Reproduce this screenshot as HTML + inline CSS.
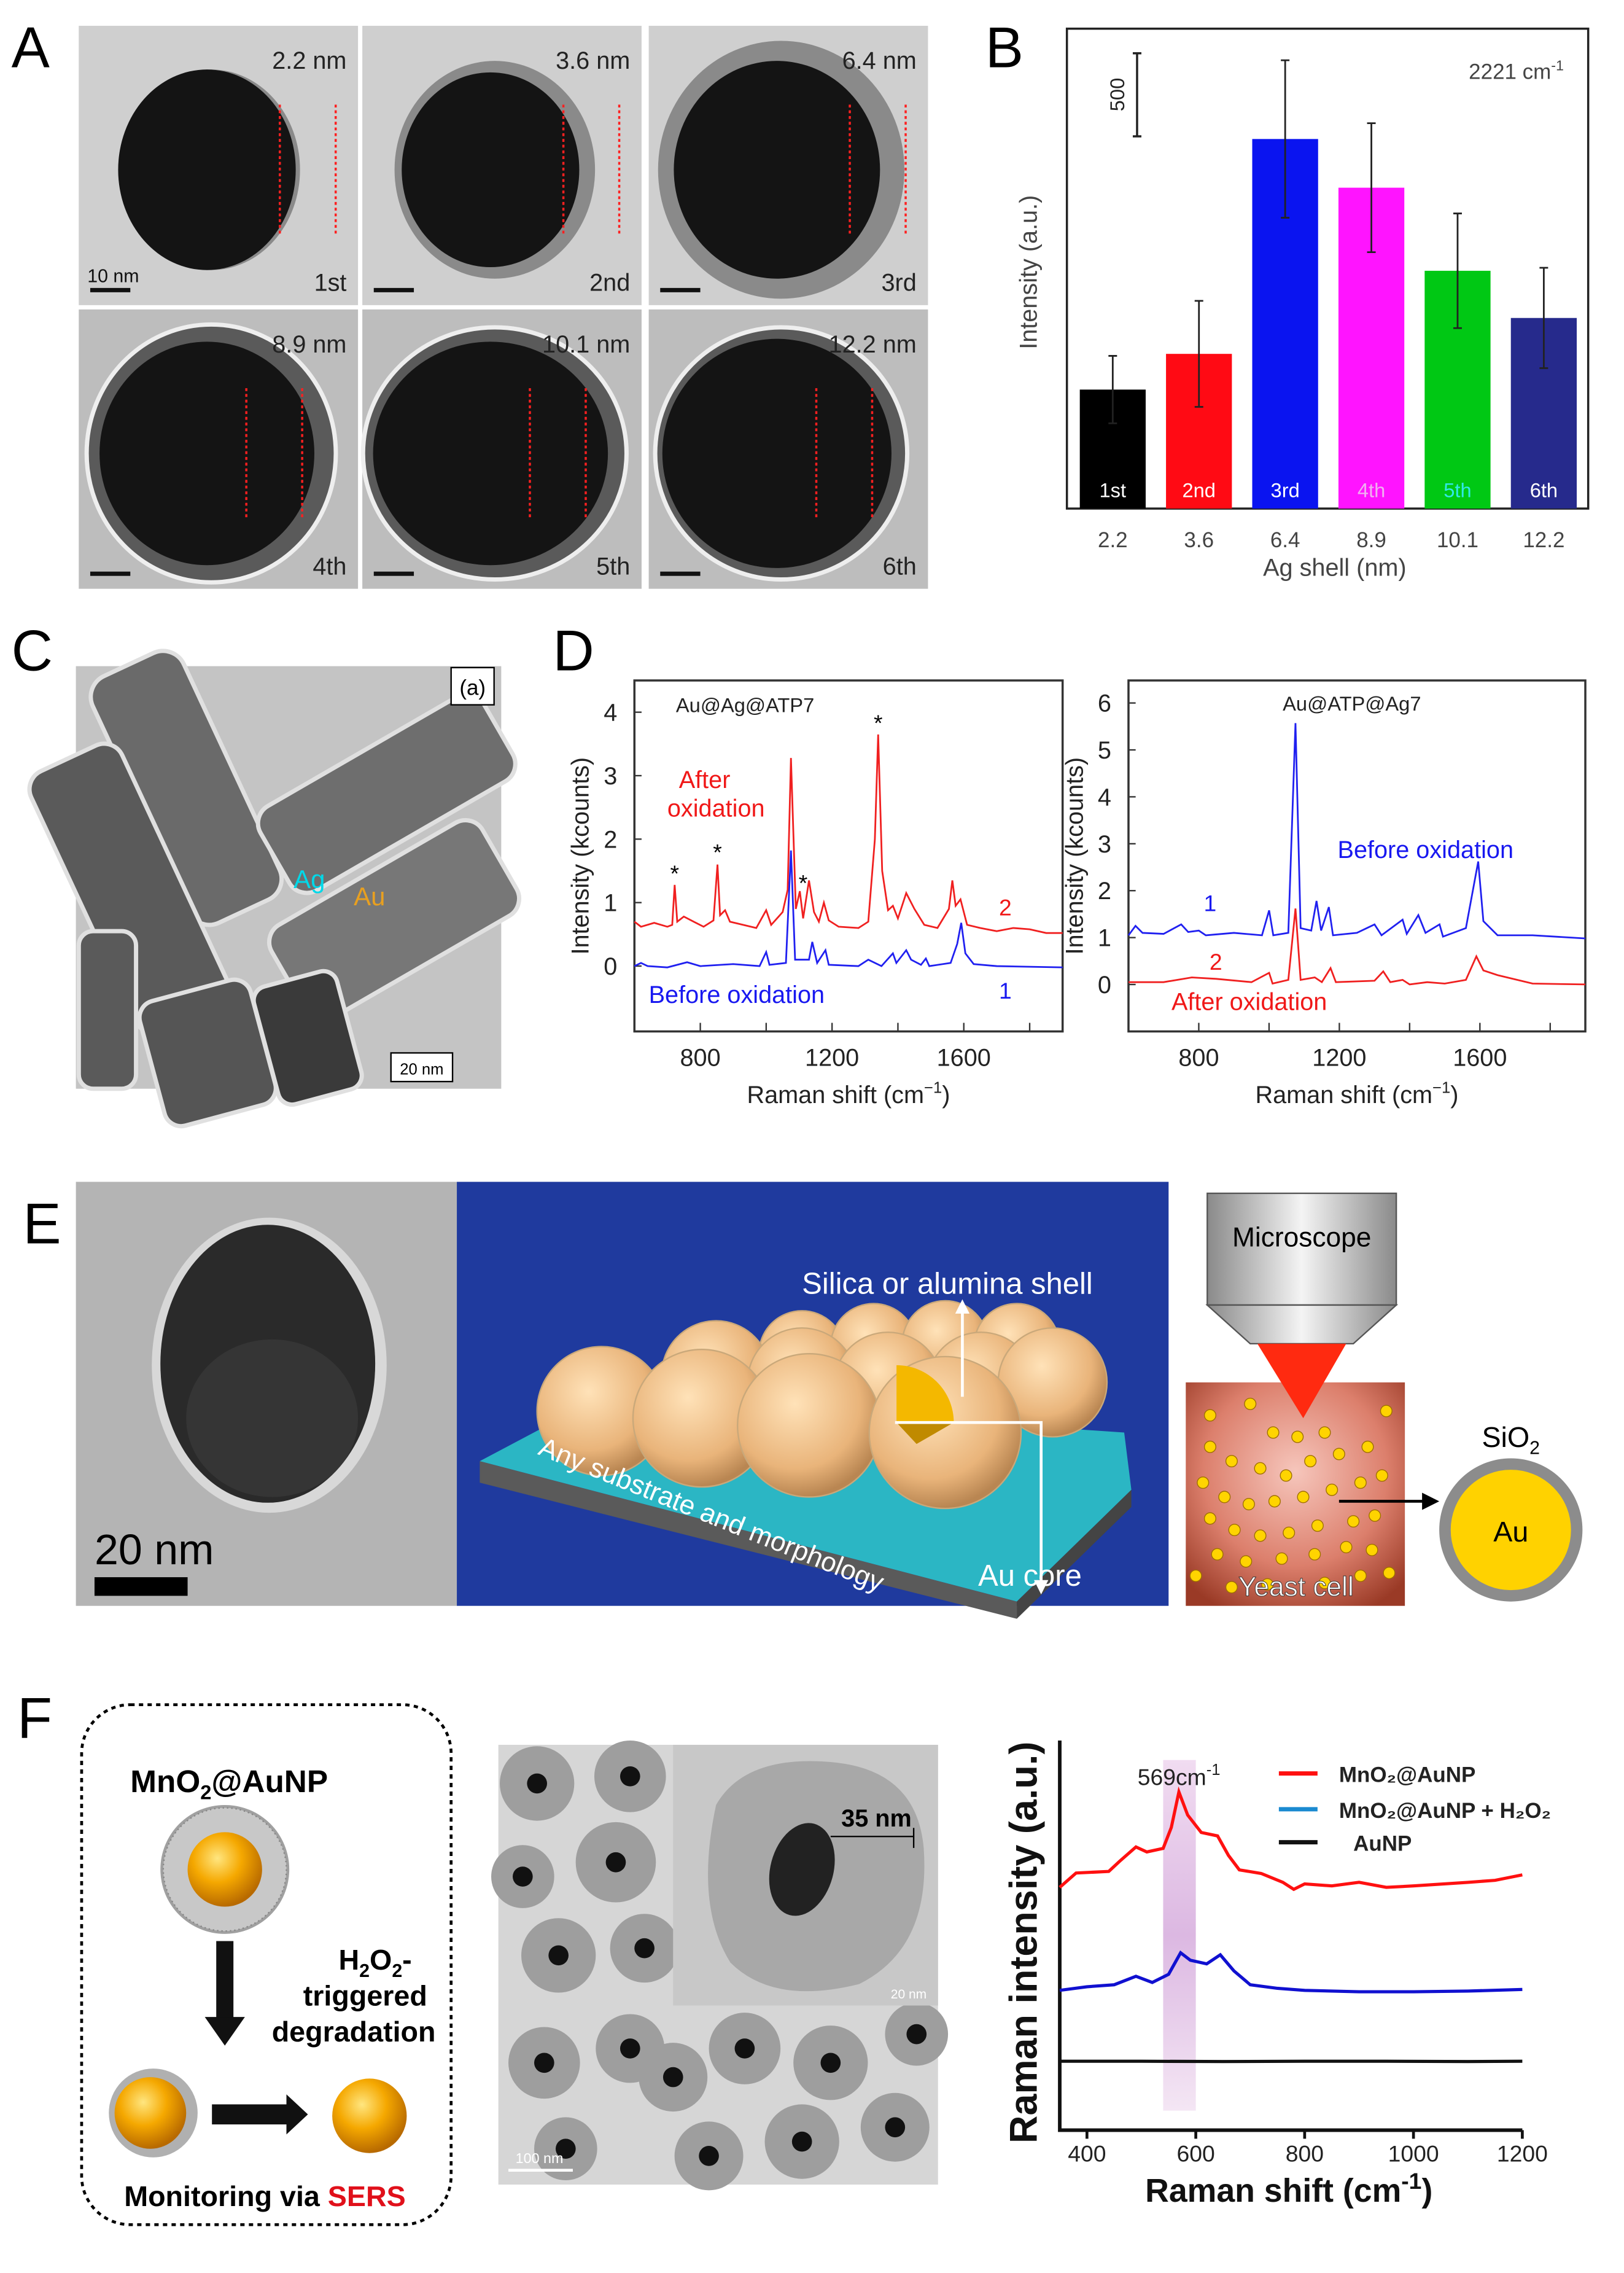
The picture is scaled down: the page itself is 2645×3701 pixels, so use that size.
<!DOCTYPE html>
<html><head><meta charset="utf-8">
<style>
html,body{margin:0;padding:0;background:#fff;}
svg{display:block;font-family:"Liberation Sans",Arial,sans-serif;}
</style></head>
<body>
<svg id="fig" xmlns="http://www.w3.org/2000/svg" width="2645" height="3701" viewBox="0 0 1134 1586.7">
<defs>
<radialGradient id="tem" cx="50%" cy="50%" r="60%"><stop offset="0" stop-color="#d2d2d2"/><stop offset="1" stop-color="#b8b8b8"/></radialGradient>
<radialGradient id="gold" cx="40%" cy="35%" r="65%"><stop offset="0" stop-color="#ffe680"/><stop offset="0.5" stop-color="#f5a800"/><stop offset="1" stop-color="#b86a00"/></radialGradient>
<radialGradient id="shell" cx="40%" cy="35%" r="65%"><stop offset="0" stop-color="#ffe2b8"/><stop offset="0.7" stop-color="#e9b47a"/><stop offset="1" stop-color="#b98652"/></radialGradient>
<linearGradient id="scope" x1="0" x2="1"><stop offset="0" stop-color="#8a8a8a"/><stop offset="0.5" stop-color="#f4f4f4"/><stop offset="1" stop-color="#8a8a8a"/></linearGradient>
<linearGradient id="band" x1="0" y1="0" x2="0" y2="1"><stop offset="0" stop-color="#f1dcf1"/><stop offset="0.5" stop-color="#dcb8e2"/><stop offset="1" stop-color="#f4e6f4"/></linearGradient>
<radialGradient id="yeast" cx="50%" cy="40%" r="70%"><stop offset="0" stop-color="#f6c6bc"/><stop offset="0.6" stop-color="#dc7f6c"/><stop offset="1" stop-color="#9a3a26"/></radialGradient>
</defs>

<!-- Panel letters -->
<text x="8" y="47" font-size="40">A</text>
<text x="688" y="47" font-size="40">B</text>
<text x="8" y="468" font-size="40">C</text>
<text x="386" y="468" font-size="40">D</text>
<text x="16" y="868" font-size="40">E</text>
<text x="12" y="1213" font-size="40">F</text>

<!-- Panel A TEM grid -->
<g id="panelA"></g>

<!-- Panel B -->
<g id="panelB"></g>

<!-- Panel C -->
<g>
<rect x="53" y="465" width="297" height="295" fill="#c4c4c4"/>
<g fill="#6a6a6a" stroke="#e0e0e0" stroke-width="3">
<rect x="95" y="455" width="70" height="190" rx="16" transform="rotate(-25 130 550)"/>
<rect x="55" y="520" width="70" height="200" rx="14" transform="rotate(-25 90 620)" fill="#5a5a5a"/>
<rect x="180" y="520" width="180" height="68" rx="14" transform="rotate(-30 270 554)" fill="#6e6e6e"/>
<rect x="190" y="605" width="170" height="75" rx="14" transform="rotate(-30 275 642)" fill="#777"/>
<rect x="105" y="690" width="80" height="90" rx="12" transform="rotate(-15 145 735)" fill="#555"/>
<rect x="185" y="682" width="60" height="85" rx="10" transform="rotate(-15 215 725)" fill="#3a3a3a"/>
<rect x="55" y="650" width="40" height="110" rx="10" fill="#5a5a5a"/>
</g>
<rect x="315" y="466" width="30" height="26" fill="#fff" stroke="#000" stroke-width="1"/>
<text x="330" y="485" font-size="15" text-anchor="middle">(a)</text>
<rect x="273" y="735" width="43" height="20" fill="#fff" stroke="#000" stroke-width="1"/>
<text x="294.5" y="750" font-size="11" text-anchor="middle">20 nm</text>
<text x="205" y="620" font-size="18" fill="#00d8e8">Ag</text>
<text x="247" y="632" font-size="18" fill="#e8a020">Au</text>
</g>

<!-- Panel D -->
<g id="panelD"></g>

<!-- Panel E -->
<g>
<rect x="53" y="825" width="266" height="296" fill="#b4b4b4"/>
<ellipse cx="188" cy="953" rx="82" ry="103" fill="#d8d8d8"/>
<ellipse cx="187" cy="952" rx="75" ry="97" fill="#2a2a2a"/>
<ellipse cx="190" cy="990" rx="60" ry="55" fill="#3a3a3a" opacity="0.7"/>
<text x="66" y="1092" font-size="30">20 nm</text>
<rect x="66" y="1101" width="65" height="13" fill="#000"/>
<rect x="319" y="825" width="497" height="296" fill="#1f3a9e"/>
<polygon points="335,1020 710,1118 790,1040 785,1000 420,975" fill="#2bb6c4"/>
<polygon points="335,1020 710,1118 710,1130 335,1035" fill="#5a5a5a"/>
<polygon points="710,1118 790,1040 790,1052 710,1130" fill="#444"/>
<g id="spheres"></g>
<text x="560" y="903" font-size="21" fill="#fff">Silica or alumina shell</text>
<line x1="672" y1="975" x2="672" y2="915" stroke="#fff" stroke-width="2"/>
<polygon points="667,917 677,917 672,907" fill="#fff"/>
<polyline points="625,993 727,993 727,1105" fill="none" stroke="#fff" stroke-width="2"/>
<polygon points="722,1103 732,1103 727,1113" fill="#fff"/>
<text x="375" y="1015" font-size="19" fill="#fff" transform="rotate(22 375 1015)">Any substrate and morphology</text>
<text x="683" y="1107" font-size="21" fill="#fff">Au core</text>
<rect x="843" y="833" width="132" height="78" fill="url(#scope)" stroke="#555"/>
<polygon points="843,911 975,911 945,938 873,938" fill="url(#scope)" stroke="#555"/>
<text x="909" y="870" font-size="19" text-anchor="middle">Microscope</text>
<rect x="828" y="965" width="153" height="156" fill="url(#yeast)"/>
<polygon points="878,938 940,938 910,990" fill="#ff2a10"/>
<g id="dots" fill="#ffd400" stroke="#a07000" stroke-width="0.6"></g>
<text x="905" y="1114" font-size="19" fill="#fff" text-anchor="middle" stroke="#333" stroke-width="0.4">Yeast cell</text>
<line x1="935" y1="1048" x2="995" y2="1048" stroke="#000" stroke-width="2"/>
<polygon points="993,1042 1005,1048 993,1054" fill="#000"/>
<circle cx="1055" cy="1068" r="46" fill="#ffd200" stroke="#8c8c8c" stroke-width="8"/>
<text x="1055" y="1010" font-size="20" text-anchor="middle">SiO<tspan font-size="13" dy="5">2</tspan></text>
<text x="1055" y="1076" font-size="20" text-anchor="middle">Au</text>
</g>

<!-- Panel F left schematic -->
<g>
<rect x="57" y="1190" width="258" height="363" rx="34" fill="none" stroke="#000" stroke-width="2" stroke-dasharray="3,3"/>
<text x="160" y="1251" font-size="22" font-weight="bold" text-anchor="middle">MnO<tspan font-size="14" dy="5">2</tspan><tspan dy="-5">@AuNP</tspan></text>
<circle cx="157" cy="1305" r="45" fill="#a0a0a0"/>
<circle cx="157" cy="1305" r="43" fill="#c8c8c8" stroke="#888" stroke-dasharray="1,2"/>
<circle cx="157" cy="1305" r="26" fill="url(#gold)"/>
<rect x="151" y="1355" width="12" height="55" fill="#111"/>
<polygon points="143,1408 171,1408 157,1428" fill="#111"/>
<text x="262" y="1375" font-size="20" font-weight="bold" text-anchor="middle">H<tspan font-size="13" dy="5">2</tspan><tspan dy="-5">O</tspan><tspan font-size="13" dy="5">2</tspan><tspan dy="-5">-</tspan></text>
<text x="255" y="1400" font-size="20" font-weight="bold" text-anchor="middle">triggered</text>
<text x="247" y="1425" font-size="20" font-weight="bold" text-anchor="middle">degradation</text>
<circle cx="107" cy="1475" r="31" fill="#b0b0b0"/>
<circle cx="105" cy="1475" r="25" fill="url(#gold)"/>
<rect x="148" y="1469" width="55" height="14" fill="#111"/>
<polygon points="200,1462 215,1476 200,1490" fill="#111"/>
<circle cx="258" cy="1477" r="26" fill="url(#gold)"/>
<text x="185" y="1540" font-size="20" font-weight="bold" text-anchor="middle">Monitoring via <tspan fill="#e0101a">SERS</tspan></text>
</g>
<g>
<rect x="348" y="1218" width="307" height="307" fill="#d6d6d6"/>
<g id="ftem"></g>
<rect x="470" y="1218" width="185" height="182" fill="#c8c8c8"/>
<path d="M500,1260 Q520,1225 580,1230 Q640,1235 645,1290 Q650,1360 600,1385 Q540,1400 510,1370 Q485,1330 500,1260Z" fill="#a8a8a8"/>
<ellipse cx="560" cy="1305" rx="22" ry="33" fill="#222" transform="rotate(15 560 1305)"/>
<line x1="580" y1="1282" x2="638" y2="1282" stroke="#000"/>
<line x1="638" y1="1276" x2="638" y2="1290" stroke="#000"/>
<text x="612" y="1275" font-size="17" font-weight="bold" text-anchor="middle">35 nm</text>
<text x="622" y="1395" font-size="9" fill="#fff">20 nm</text>
<line x1="355" y1="1515" x2="400" y2="1515" stroke="#fff" stroke-width="2"/>
<text x="360" y="1510" font-size="10" fill="#fff">100 nm</text>
</g>

<!-- Panel F chart -->
<g id="panelF"></g>
</svg>

<script>
const NS="http://www.w3.org/2000/svg";
function el(tag,parent){const e=document.createElementNS(NS,tag);parent.appendChild(e);return e;}
function txt(parent,x,y,s,size,anchor,fill){const t=el('text',parent);t.setAttribute('x',x);t.setAttribute('y',y);t.setAttribute('font-size',size);t.setAttribute('text-anchor',anchor||'start');t.setAttribute('fill',fill||'#000');t.textContent=s;return t;}

/* ===== Panel A ===== */
const aShell=["2.2 nm","3.6 nm","6.4 nm","8.9 nm","10.1 nm","12.2 nm"];
const aOrder=["1st","2nd","3rd","4th","5th","6th"];
(function(){
const g=document.getElementById('panelA');
const cols=[55,253,453], rows=[18,216], w=195, h=195;
const pr=[[62,70],[62,68],[72,76],[75,78],[82,78],[80,80]];
const shellR=[0,8,14,12,10,8];
for(let i=0;i<6;i++){
 const x=cols[i%3], y=rows[Math.floor(i/3)];
 const r=el('rect',g);
 
 
 r.setAttribute('x',x);r.setAttribute('y',y);r.setAttribute('width',w);r.setAttribute('height',h);r.setAttribute('fill',i<3?'#cfcfcf':'#bdbdbd');
 const cx=x+w/2-5, cy=y+h/2+3;
 const s=el('ellipse',g);s.setAttribute('cx',cx);s.setAttribute('cy',cy);s.setAttribute('rx',pr[i][0]+shellR[i]);s.setAttribute('ry',pr[i][1]+shellR[i]);s.setAttribute('fill',i<3?'#8a8a8a':'#5a5a5a');s.setAttribute('stroke',i<3?'none':'#eee');s.setAttribute('stroke-width','3');
 const c=el('ellipse',g);c.setAttribute('cx',cx-3);c.setAttribute('cy',cy);c.setAttribute('rx',pr[i][0]);c.setAttribute('ry',pr[i][1]);c.setAttribute('fill','#141414');
 for(const dx of [0.72,0.92]){const l=el('line',g);const lx=x+w*(i<3?dx:dx-0.12);l.setAttribute('x1',lx);l.setAttribute('x2',lx);l.setAttribute('y1',y+55);l.setAttribute('y2',y+145);l.setAttribute('stroke','#ff2020');l.setAttribute('stroke-width','1.5');l.setAttribute('stroke-dasharray','2,2');}
 const t1=txt(g,x+w-8,y+30,aShell[i],17,'end','#222');
 
 
 const t2=txt(g,x+w-8,y+h-10,aOrder[i],17,'end','#222');
 
 
 const sb=el('rect',g);sb.setAttribute('x',x+8);sb.setAttribute('y',y+h-12);sb.setAttribute('width',28);sb.setAttribute('height',3);sb.setAttribute('fill','#111');
 if(i===0){txt(g,x+6,y+h-16,'10 nm',13,'start','#111');}
}
})();

/* ===== Panel B ===== */
const bCats=["2.2","3.6","6.4","8.9","10.1","12.2"];
const bLabels=["1st","2nd","3rd","4th","5th","6th"];
const bVals=[716,931,2224,1931,1431,1147];
const bErr=[203,319,474,388,345,302];
const bColors=["#000000","#ff0a14","#0a14f0","#ff14ff","#00c814","#262a8c"];
(function(){
const g=document.getElementById('panelB');
const L=745,R=1109,T=20,B=355;
const yB=v=>B-v*58/500;
const xB=i=>L+32+60.2*i;
const f=el('rect',g);


f.setAttribute('x',L);f.setAttribute('y',T);f.setAttribute('width',R-L);f.setAttribute('height',B-T);f.setAttribute('fill','none');f.setAttribute('stroke','#222');f.setAttribute('stroke-width','1.5');
for(let i=0;i<bVals.length;i++){
 const b=el('rect',g);
 
 
 b.setAttribute('x',xB(i)-23);b.setAttribute('y',yB(bVals[i]));b.setAttribute('width',46);b.setAttribute('height',B-yB(bVals[i]));b.setAttribute('fill',bColors[i]);
 const e=el('path',g);
 
 
 const y1=yB(bVals[i]+bErr[i]), y2=yB(bVals[i]-bErr[i]), xc=xB(i);
 e.setAttribute('d',`M${xc},${y1}V${y2}M${xc-3},${y1}H${xc+3}M${xc-3},${y2}H${xc+3}`);e.setAttribute('stroke','#222');e.setAttribute('stroke-width','1.2');e.setAttribute('fill','none');
 const bl=txt(g,xc,B-8,bLabels[i],14,'middle',i===4?'#30e8e8':(i===3?'#f0b0f0':'#fff'));
 
 
 const tl=txt(g,xc,B+27,bCats[i],15,'middle','#444');
 
 
}
const sc=el('path',g);


sc.setAttribute('d',`M794,${yB(2740)}V${yB(2240)}M791,${yB(2740)}H797M791,${yB(2240)}H797`);sc.setAttribute('stroke','#222');sc.setAttribute('stroke-width','1.5');
const s5=txt(g,0,0,'500',14,'middle','#222');s5.setAttribute('transform','translate(785,66) rotate(-90)');
const ct=txt(g,1092,55,'2221 cm',15,'end','#444');
const sup=el('tspan',ct);sup.setAttribute('font-size','10');sup.setAttribute('dy','-6');sup.textContent='-1';
const xt=txt(g,932,402,'Ag shell (nm)',17,'middle','#444');


const yt=txt(g,0,0,'Intensity (a.u.)',17,'middle','#444');


yt.setAttribute('transform','translate(724,190) rotate(-90)');
})();

/* ===== Panel D spectra ===== */
const dL_red_x=[600,620,660,700,715,722,730,750,780,810,840,852,860,875,890,930,970,1000,1015,1050,1065,1075,1090,1102,1112,1130,1145,1160,1175,1190,1220,1280,1310,1330,1340,1352,1370,1385,1400,1425,1450,1480,1520,1555,1565,1575,1590,1610,1650,1700,1750,1800,1850,1900];
const dL_red_y=[0.7,0.62,0.68,0.62,0.65,1.28,0.7,0.78,0.7,0.62,0.72,1.6,0.8,0.88,0.7,0.65,0.6,0.88,0.65,0.85,1.2,3.28,0.9,1.18,0.75,1.35,0.85,0.7,1.0,0.72,0.62,0.6,0.7,2.0,3.65,1.5,0.88,0.95,0.75,1.15,0.9,0.65,0.6,0.9,1.35,0.95,1.05,0.65,0.6,0.55,0.6,0.58,0.52,0.52];
const dL_blue_x=[600,620,640,700,760,800,900,980,1000,1010,1060,1075,1088,1130,1140,1155,1180,1190,1280,1310,1350,1385,1395,1425,1440,1470,1485,1495,1560,1580,1592,1605,1630,1700,1900];
const dL_blue_y=[0,0.05,0,-0.02,0.06,0,0.03,0,0.22,0.02,0.05,1.82,0.1,0.1,0.38,0.05,0.25,0.02,0,0.1,0,0.2,0.05,0.25,0.1,0.02,0.12,0,0.05,0.35,0.68,0.2,0.03,0,-0.02];
const dR_blue_x=[600,620,640,700,750,770,800,820,900,980,1000,1012,1055,1075,1090,1120,1135,1148,1170,1182,1250,1300,1320,1380,1392,1425,1445,1485,1495,1560,1595,1610,1650,1750,1900];
const dR_blue_y=[1.05,1.25,1.1,1.08,1.28,1.12,1.15,1.05,1.1,1.05,1.58,1.05,1.1,5.57,1.2,1.15,1.78,1.15,1.65,1.05,1.1,1.28,1.05,1.38,1.08,1.48,1.1,1.28,1.02,1.2,2.62,1.35,1.05,1.05,0.98];
const dR_red_x=[600,650,700,780,850,950,1000,1010,1055,1075,1090,1130,1150,1175,1190,1300,1325,1345,1380,1400,1450,1500,1560,1590,1610,1650,1750,1900];
const dR_red_y=[0.05,0.05,0.05,0.15,0.12,0.05,0.25,0.02,0.1,1.62,0.1,0.15,0.05,0.35,0.05,0.08,0.28,0.05,0.1,0,0.05,0.02,0.1,0.6,0.3,0.2,0.02,0];
const dXTicks=[800,1200,1600];
const dLYTicks=[0,1,2,3,4];
const dRYTicks=[0,1,2,3,4,5,6];
(function(){
const g=document.getElementById('panelD');
function panel(L,R,T,B,ymin,ymax,yt,series,name){
 const xs=v=>L+(v-600)/1300*(R-L);
 const ys=v=>B-(v-ymin)/(ymax-ymin)*(B-T);
 const f=el('rect',g);
 
 
 f.setAttribute('x',L);f.setAttribute('y',T);f.setAttribute('width',R-L);f.setAttribute('height',B-T);f.setAttribute('fill','none');f.setAttribute('stroke','#333');f.setAttribute('stroke-width','1.5');
 for(let v=800;v<=1800;v+=200){const t=el('line',g);t.setAttribute('x1',xs(v));t.setAttribute('x2',xs(v));t.setAttribute('y1',B);t.setAttribute('y2',B-6);t.setAttribute('stroke','#333');}
 dXTicks.forEach(v=>{const t=txt(g,xs(v),B+24,String(v),17,'middle','#222');
  
  });
 yt.forEach(v=>{const t=txt(g,L-12,ys(v)+6,String(v),17,'end','#222');
  
  
  const tk=el('line',g);tk.setAttribute('x1',L);tk.setAttribute('x2',L+5);tk.setAttribute('y1',ys(v));tk.setAttribute('y2',ys(v));tk.setAttribute('stroke','#333');});
 series.forEach(s=>{const p=el('polyline',g);
  
  
  p.setAttribute('points',s.x.map((v,i)=>xs(v).toFixed(1)+','+ys(s.y[i]).toFixed(1)).join(' '));p.setAttribute('fill','none');p.setAttribute('stroke',s.c);p.setAttribute('stroke-width','1.2');});
 const xt=txt(g,(L+R)/2,B+50,'Raman shift (cm',17,'middle','#222');
 
 
 const sp=el('tspan',xt);sp.setAttribute('font-size','11');sp.setAttribute('dy','-7');sp.textContent='−1';
 const sp2=el('tspan',xt);sp2.setAttribute('dy','7');sp2.textContent=')';
 const yT=txt(g,0,0,'Intensity (kcounts)',17,'middle','#222');
 
 
 yT.setAttribute('transform',`translate(${L-32},${(T+B)/2}) rotate(-90)`);
 return {xs,ys};
}
const a=panel(443,742,475,720,-1.03,4.5,dLYTicks,[{name:'left-red-after',x:dL_red_x,y:dL_red_y,c:'#f02020'},{name:'left-blue-before',x:dL_blue_x,y:dL_blue_y,c:'#2020f0'}],'d-left');
txt(g,472,497,'Au@Ag@ATP7',14,'start','#222');
txt(g,492,550,'After',17,'middle','#f01818');
txt(g,500,570,'oxidation',17,'middle','#f01818');
txt(g,453,700,'Before oxidation',17,'start','#1818f0');
txt(g,702,639,'2',16,'middle','#f01818');
txt(g,702,697,'1',16,'middle','#1818f0');
[[722,1.45],[852,1.78],[1112,1.3],[1340,3.82]].forEach(s=>txt(g,a.xs(s[0]),a.ys(s[1])+5,'*',16,'middle','#000'));
const b=panel(788,1107,475,720,-1.0,6.48,dRYTicks,[{name:'right-blue-before',x:dR_blue_x,y:dR_blue_y,c:'#2020f0'},{name:'right-red-after',x:dR_red_x,y:dR_red_y,c:'#f02020'}],'d-right');
txt(g,944,496,'Au@ATP@Ag7',14,'middle','#222');
txt(g,934,599,'Before oxidation',17,'start','#1818f0');
txt(g,818,705,'After oxidation',17,'start','#f01818');
txt(g,845,636,'1',16,'middle','#1818f0');
txt(g,849,677,'2',16,'middle','#f01818');
})();

/* ===== Panel E decor ===== */
(function(){
const g=document.getElementById('spheres');
const sp=[[560,945,30],[610,940,30],[660,938,30],[710,940,30],[500,960,38],[560,965,38],[620,968,38],[685,968,38],[735,965,38],[420,985,45],[490,990,48],[565,995,50],[660,1000,53]];
sp.forEach(s=>{const c=el('circle',g);c.setAttribute('cx',s[0]);c.setAttribute('cy',s[1]);c.setAttribute('r',s[2]);c.setAttribute('fill','url(#shell)');c.setAttribute('stroke','#c9a87a');c.setAttribute('stroke-width','1');});
const w=el('path',g);w.setAttribute('d','M626,993 L626,953 A40,40 0 0 1 666,993 Z');w.setAttribute('fill','#f4b800');
const w2=el('path',g);w2.setAttribute('d','M626,993 L666,993 L640,1008 Z');w2.setAttribute('fill','#c08a00');
const d=document.getElementById('dots');
const pts=[[845,988],[873,980],[889,1000],[906,1003],[925,1000],[845,1010],[860,1020],[880,1025],[898,1030],[915,1020],[935,1015],[955,1010],[840,1035],[855,1045],[872,1050],[890,1048],[910,1045],[930,1040],[950,1035],[965,1030],[845,1060],[862,1068],[880,1072],[900,1070],[920,1065],[945,1062],[960,1058],[850,1085],[870,1090],[895,1088],[918,1085],[940,1080],[958,1082],[835,1100],[860,1108],[885,1106],[925,1105],[950,1100],[970,1098],[968,985]];
pts.forEach(p=>{const c=el('circle',d);c.setAttribute('cx',p[0]);c.setAttribute('cy',p[1]);c.setAttribute('r',4);});
const f=document.getElementById('ftem');
const cells=[[375,1245,26],[440,1240,25],[365,1310,22],[430,1300,28],[390,1365,26],[450,1360,24],[380,1440,25],[440,1430,24],[395,1500,22],[470,1450,24],[520,1430,25],[580,1440,26],[640,1420,22],[495,1505,24],[560,1495,26],[625,1485,24],[630,1250,22]];
cells.forEach(c=>{const a=el('circle',f);a.setAttribute('cx',c[0]);a.setAttribute('cy',c[1]);a.setAttribute('r',c[2]);a.setAttribute('fill','#9e9e9e');const k=el('circle',f);k.setAttribute('cx',c[0]);k.setAttribute('cy',c[1]);k.setAttribute('r',7);k.setAttribute('fill','#111');});
})();

/* ===== Panel F chart ===== */
const fRedX=[350,380,440,460,490,510,540,555,569,585,610,640,660,680,720,760,780,800,850,900,950,1000,1100,1150,1200];
const fRedY=[62.3,66,66.4,69,72.7,71.4,72.3,77.7,86.8,80.9,76.4,75.5,70.5,66.8,65.9,63.6,61.8,63.2,62.7,63.6,62.3,62.7,63.6,64.1,65.5];
const fBlueX=[350,400,450,490,520,550,572,590,620,645,670,700,750,800,900,1000,1100,1200];
const fBlueY=[35.9,36.8,37.3,39.5,37.9,40,45.5,43.6,42.7,45,40.9,37.3,36.4,35.9,35.5,35.5,35.7,36.1];
const fBlackX=[350,500,650,800,950,1100,1200];
const fBlackY=[17.7,17.7,17.6,17.7,17.7,17.6,17.7];
const fXTicks=[400,600,800,1000,1200];
const fBand=[540,600];
(function(){
const g=document.getElementById('panelF');
const L=740,R=1063,T=1215,B=1487;
const xs=v=>L+(v-350)/850*(R-L);
const ys=v=>B-v/100*(B-T);
const band=el('rect',g);


band.setAttribute('x',xs(fBand[0]));band.setAttribute('width',xs(fBand[1])-xs(fBand[0]));band.setAttribute('y',ys(95));band.setAttribute('height',ys(5)-ys(95));band.setAttribute('fill','url(#band)');
const ax=el('path',g);


ax.setAttribute('d',`M${L},${T}V${B}H${R}`);ax.setAttribute('stroke','#111');ax.setAttribute('stroke-width','2.5');ax.setAttribute('fill','none');
fXTicks.forEach(v=>{const t=el('line',g);t.setAttribute('x1',xs(v));t.setAttribute('x2',xs(v));t.setAttribute('y1',B);t.setAttribute('y2',B+6);t.setAttribute('stroke','#111');t.setAttribute('stroke-width','2');
 const l=txt(g,xs(v),B+22,String(v),16,'middle','#222');
 
 });
[[fRedX,fRedY,'#ff1010','mno2-aunp-line'],[fBlueX,fBlueY,'#1010d0','mno2-aunp-h2o2-line'],[fBlackX,fBlackY,'#111','aunp-line']].forEach(s=>{
 const p=el('polyline',g);
 
 
 p.setAttribute('points',s[0].map((v,i)=>xs(v).toFixed(1)+','+ys(s[1][i]).toFixed(1)).join(' '));p.setAttribute('fill','none');p.setAttribute('stroke',s[2]);p.setAttribute('stroke-width','2.2');});
const pk=txt(g,xs(569),T+31,'569cm',16,'middle','#222');
const pks=el('tspan',pk);pks.setAttribute('font-size','11');pks.setAttribute('dy','-7');pks.textContent='-1';
const leg=[['#ff1010','MnO₂@AuNP',1238],['#1a8ad0','MnO₂@AuNP + H₂O₂',1263],['#111','AuNP',1286]];
leg.forEach(l=>{const ln=el('line',g);
 
 
 ln.setAttribute('x1',893);ln.setAttribute('x2',920);ln.setAttribute('y1',l[2]);ln.setAttribute('y2',l[2]);ln.setAttribute('stroke',l[0]);ln.setAttribute('stroke-width','3');
 const t=txt(g,l[1]==='AuNP'?945:935,l[2]+6,l[1],15,'start','#222');
 
 
 t.setAttribute('font-weight','bold');});
const xt=txt(g,900,1537,'Raman shift (cm',23,'middle','#111');


xt.setAttribute('font-weight','bold');
const xs1=el('tspan',xt);xs1.setAttribute('font-size','16');xs1.setAttribute('dy','-9');xs1.textContent='-1';
const xs2=el('tspan',xt);xs2.setAttribute('dy','9');xs2.textContent=')';
const yt=txt(g,0,0,'Raman intensity (a.u.)',27,'middle','#111');


yt.setAttribute('font-weight','bold');
yt.setAttribute('transform',`translate(724,${(T+B)/2+5}) rotate(-90)`);
})();
</script>
</body></html>
